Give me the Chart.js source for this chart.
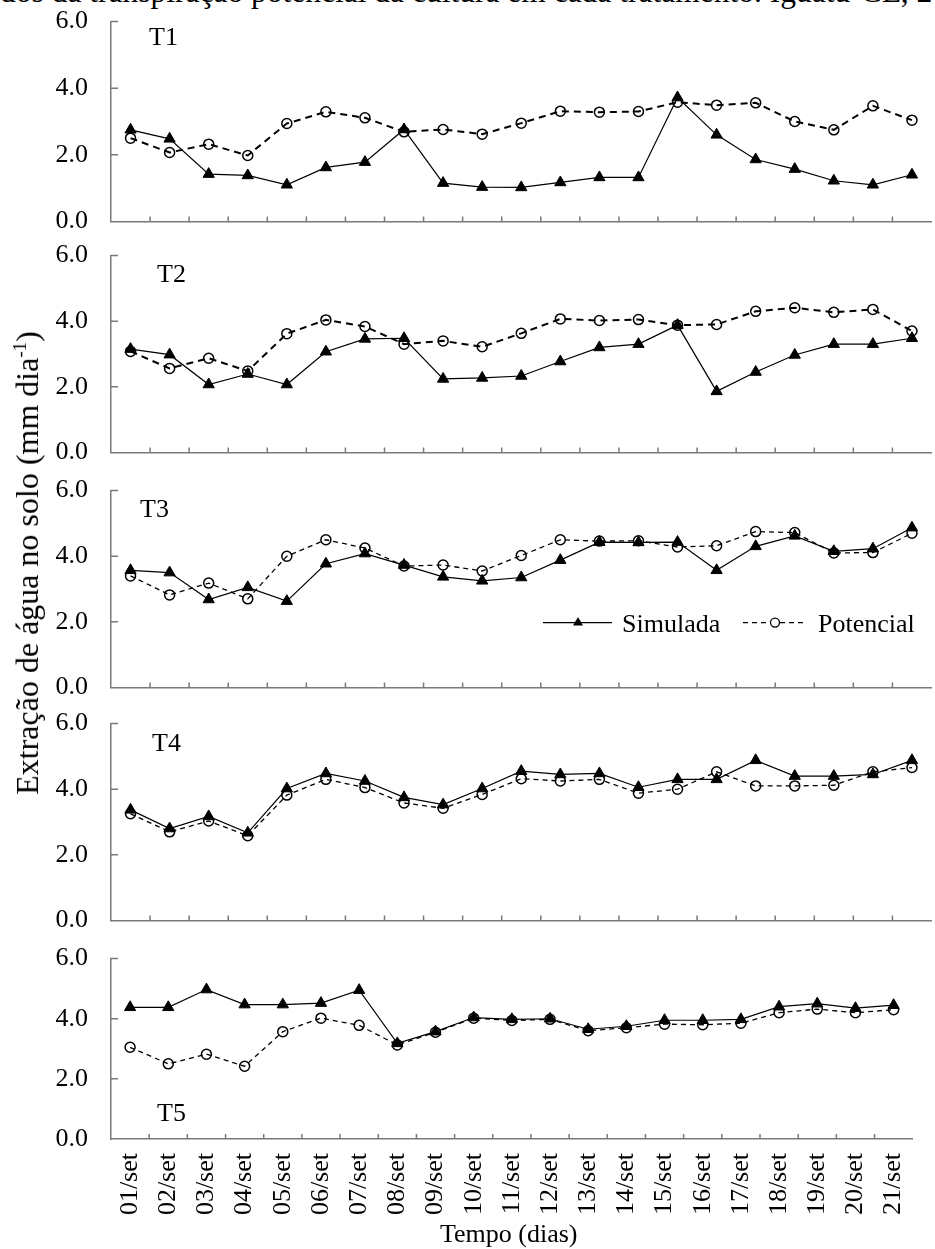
<!DOCTYPE html>
<html lang="pt-BR">
<head>
<meta charset="UTF-8">
<title>Extração de água no solo - T1 a T5</title>
<script src="https://cdn.jsdelivr.net/npm/chart.js"></script>
<style>
    html, body { margin: 0; padding: 0; background: #fff; overflow: hidden; }
    #figura {
        position: relative; width: 935px; height: 1249px; overflow: hidden;
        font-family: "Liberation Serif", "Times New Roman", serif; color: #000;
    }
    #figura canvas { position: absolute; left: 0; }
    .texto { position: absolute; font-size: 26px; line-height: 26px; white-space: nowrap; }
    .legenda-figura { font-size: 31.5px; line-height: 32px; }
    .titulo-y { font-size: 32px; line-height: 32px; transform: translate(-50%, -50%) rotate(-90deg); }
    .titulo-y sup { font-size: 19px; line-height: 0; }
</style>
</head>
<body>
<div id="figura">
    <div class="texto legenda-figura" style="left: 0px; top: -24px;">dos da transpiração potencial da cultura em cada tratamento. Iguatu-CE, 2</div>
    <canvas id="t1"></canvas>
    <canvas id="t2"></canvas>
    <canvas id="t3"></canvas>
    <canvas id="t4"></canvas>
    <canvas id="t5"></canvas>
    <div class="texto" style="left: 149px; top: 24px;">T1</div>
    <div class="texto" style="left: 157px; top: 261px;">T2</div>
    <div class="texto" style="left: 140px; top: 496px;">T3</div>
    <div class="texto" style="left: 152px; top: 730px;">T4</div>
    <div class="texto" style="left: 157px; top: 1100px;">T5</div>
    <div class="texto titulo-y" style="left: 27px; top: 563px;">Extração de água no solo (mm dia<sup>-1</sup>)</div>
    <div class="texto" style="left: 440px; top: 1221px;">Tempo (dias)</div>
</div>

<script>
    // Dias de setembro (eixo x)
    const dias = ['01/set', '02/set', '03/set', '04/set', '05/set', '06/set', '07/set',
        '08/set', '09/set', '10/set', '11/set', '12/set', '13/set', '14/set',
        '15/set', '16/set', '17/set', '18/set', '19/set', '20/set', '21/set'];
    const valoresY = [0, 2, 4, 6];

    // Extração simulada (mm/dia) por tratamento
    const simuladaT1 = [2.75, 2.48, 1.42, 1.38, 1.10, 1.62, 1.78, 2.76, 1.15, 1.03, 1.02,
        1.17, 1.32, 1.32, 3.72, 2.60, 1.86, 1.57, 1.22, 1.10, 1.40];
    const simuladaT2 = [3.15, 2.98, 2.07, 2.39, 2.07, 3.07, 3.46, 3.48, 2.24, 2.27, 2.33,
        2.77, 3.20, 3.30, 3.88, 1.86, 2.45, 2.97, 3.30, 3.30, 3.48];
    const simuladaT3 = [3.57, 3.50, 2.68, 3.05, 2.63, 3.77, 4.08, 3.73, 3.37, 3.25, 3.35,
        3.88, 4.43, 4.42, 4.43, 3.57, 4.30, 4.62, 4.15, 4.23, 4.87];
    const simuladaT4 = [3.37, 2.80, 3.17, 2.67, 4.02, 4.48, 4.25, 3.75, 3.53, 4.02, 4.55,
        4.45, 4.48, 4.06, 4.30, 4.30, 4.88, 4.40, 4.40, 4.45, 4.88];
    const simuladaT5 = [4.38, 4.38, 4.97, 4.47, 4.47, 4.52, 4.95, 3.18, 3.57, 4.04, 3.98,
        4.00, 3.65, 3.75, 3.95, 3.95, 3.98, 4.40, 4.50, 4.35, 4.45];

    // Transpiração potencial (mm/dia) por tratamento
    const potencialT1 = [2.50, 2.07, 2.32, 1.98, 2.94, 3.29, 3.11, 2.69, 2.76, 2.62, 2.95,
        3.31, 3.28, 3.30, 3.58, 3.49, 3.56, 3.00, 2.75, 3.47, 3.04];
    const potencialT2 = [3.08, 2.56, 2.87, 2.48, 3.62, 4.04, 3.84, 3.30, 3.40, 3.22, 3.63,
        4.07, 4.02, 4.05, 3.88, 3.90, 4.30, 4.41, 4.27, 4.36, 3.70];
    const potencialT3 = [3.40, 2.82, 3.18, 2.70, 4.00, 4.50, 4.25, 3.70, 3.73, 3.55, 4.02,
        4.50, 4.46, 4.47, 4.28, 4.32, 4.75, 4.72, 4.10, 4.11, 4.70];
    const potencialT4 = [3.25, 2.70, 3.03, 2.58, 3.82, 4.30, 4.05, 3.58, 3.42, 3.84, 4.32,
        4.25, 4.30, 3.88, 4.00, 4.53, 4.10, 4.10, 4.12, 4.53, 4.66];
    const potencialT5 = [3.05, 2.50, 2.82, 2.42, 3.57, 4.02, 3.78, 3.13, 3.55, 4.02, 3.94,
        3.98, 3.60, 3.70, 3.82, 3.80, 3.85, 4.20, 4.32, 4.20, 4.30];

    const simulada = [simuladaT1, simuladaT2, simuladaT3, simuladaT4, simuladaT5];
    const potencial = [potencialT1, potencialT2, potencialT3, potencialT4, potencialT5];

    // Posição vertical da área de cada painel na página (6.0 no topo, 0.0 na base)
    const paineis = [
        { id: 't1', topo: 22, base: 222, tracejado: [7, 5], espessura: 2 },
        { id: 't2', topo: 256, base: 453, tracejado: [7, 5], espessura: 2 },
        { id: 't3', topo: 491, base: 688, tracejado: [5, 4], espessura: 1.3 },
        { id: 't4', topo: 724, base: 921, tracejado: [5, 4], espessura: 1.3 },
        { id: 't5', topo: 959, base: 1139, tracejado: [5, 4], espessura: 1.3 }
    ];

    const larguraCanvas = 939;
    const corEixo = '#7a7a7a';
    const fonte = { family: '"Liberation Serif", "Times New Roman", serif', size: 26 };

    // Marcas dos eixos voltadas para dentro da área do gráfico
    const marcasInternas = {
        id: 'marcasInternas',
        afterDraw(chart) {
            const { ctx, chartArea, scales } = chart;
            ctx.save();
            ctx.strokeStyle = corEixo;
            ctx.lineWidth = 1.5;
            ctx.beginPath();
            for (let i = 1; i < dias.length; i++) {
                const x = (scales.x.getPixelForValue(i - 1) + scales.x.getPixelForValue(i)) / 2;
                ctx.moveTo(x, chartArea.bottom);
                ctx.lineTo(x, chartArea.bottom - 5);
            }
            valoresY.forEach(function (v) {
                if (v === 0) return;
                const y = scales.y.getPixelForValue(v);
                ctx.moveTo(chartArea.left, y);
                ctx.lineTo(chartArea.left + 7, y);
            });
            ctx.stroke();
            ctx.restore();
        }
    };

    // Legenda desenhada dentro do painel T3
    const legendaT3 = {
        id: 'legendaT3',
        afterDraw(chart) {
            const ctx = chart.ctx;
            const y = chart.chartArea.top + 132;
            ctx.save();
            ctx.strokeStyle = '#000';
            ctx.fillStyle = '#000';

            // Simulada: linha contínua com triângulo
            ctx.lineWidth = 1.2;
            ctx.beginPath();
            ctx.moveTo(543, y);
            ctx.lineTo(612, y);
            ctx.stroke();
            ctx.beginPath();
            ctx.moveTo(578, y - 5.5);
            ctx.lineTo(583, y + 3);
            ctx.lineTo(573, y + 3);
            ctx.closePath();
            ctx.fill();

            // Potencial: linha tracejada com círculo
            ctx.lineWidth = 1.3;
            ctx.setLineDash([5, 4]);
            ctx.beginPath();
            ctx.moveTo(743, y);
            ctx.lineTo(770, y);
            ctx.moveTo(780, y);
            ctx.lineTo(806, y);
            ctx.stroke();
            ctx.setLineDash([]);
            ctx.beginPath();
            ctx.arc(775, y, 4.5, 0, Math.PI * 2);
            ctx.stroke();

            ctx.font = '26px "Liberation Serif", "Times New Roman", serif';
            ctx.textBaseline = 'alphabetic';
            ctx.fillText('Simulada', 622, y + 9);
            ctx.fillText('Potencial', 818, y + 9);
            ctx.restore();
        }
    };

    function montarGrafico(canvas, k, altura) {
        const p = paineis[k];
        const ultimo = k === paineis.length - 1;
        canvas.width = larguraCanvas;
        canvas.height = altura;
        canvas.style.width = larguraCanvas + 'px';
        canvas.style.height = altura + 'px';

        const extras = [marcasInternas];
        if (p.id === 't3') extras.push(legendaT3);

        return new Chart(canvas, {
            type: 'line',
            data: {
                labels: dias,
                datasets: [{
                    label: 'Simulada',
                    data: simulada[k],
                    borderColor: '#000',
                    borderWidth: 1.2,
                    pointStyle: 'triangle',
                    pointRadius: 6.5,
                    pointBackgroundColor: '#000',
                    pointBorderColor: '#000',
                    pointBorderWidth: 1,
                    tension: 0
                }, {
                    label: 'Potencial',
                    data: potencial[k],
                    borderColor: '#000',
                    borderWidth: p.espessura,
                    borderDash: p.tracejado,
                    pointStyle: 'circle',
                    pointRadius: 5,
                    pointBackgroundColor: 'rgba(0,0,0,0)',
                    pointBorderColor: '#000',
                    pointBorderWidth: 1.5,
                    tension: 0
                }]
            },
            options: {
                responsive: false,
                maintainAspectRatio: false,
                animation: false,
                layout: { padding: 0 },
                plugins: {
                    legend: { display: false },
                    tooltip: { enabled: false }
                },
                scales: {
                    x: {
                        type: 'category',
                        offset: true,
                        grid: { display: false, drawTicks: false },
                        border: { color: corEixo, width: 1.5 },
                        ticks: {
                            display: ultimo,
                            autoSkip: false,
                            minRotation: 90,
                            maxRotation: 90,
                            padding: 14,
                            color: '#000',
                            font: fonte
                        },
                        afterFit: function (scale) { scale.height = ultimo ? 110 : 0; }
                    },
                    y: {
                        min: 0,
                        max: 6,
                        afterBuildTicks: function (scale) {
                            scale.ticks = valoresY.map(v => ({ value: v }));
                        },
                        grid: { display: false, drawTicks: false },
                        border: { color: corEixo, width: 1.5 },
                        ticks: {
                            padding: 23,
                            color: '#000',
                            font: fonte,
                            callback: function (value) { return Number(value).toFixed(1); }
                        },
                        afterFit: function (scale) { scale.width = 111; }
                    }
                }
            },
            plugins: extras
        });
    }

    // Cria o painel, corrige a altura do canvas para a área desejada e o posiciona
    function criarPainel(k) {
        const p = paineis[k];
        const ultimo = k === paineis.length - 1;
        const canvas = document.getElementById(p.id);
        let altura = ultimo ? 290 : (p.base - p.topo) + 50;
        let grafico = montarGrafico(canvas, k, altura);
        const falta = (p.base - p.topo) - (grafico.chartArea.bottom - grafico.chartArea.top);
        if (Math.abs(falta) > 0.25) {
            grafico.destroy();
            altura = Math.round(altura + falta);
            grafico = montarGrafico(canvas, k, altura);
        }
        canvas.style.top = (p.topo - grafico.chartArea.top) + 'px';
        return grafico;
    }

    window.onload = function () {
        for (let k = 0; k < paineis.length; k++) criarPainel(k);
    };
</script>
</body>
</html>
